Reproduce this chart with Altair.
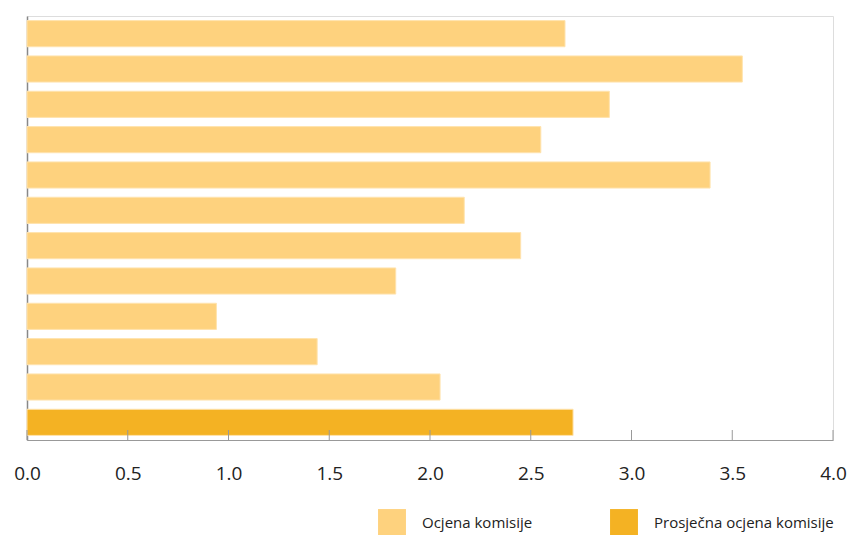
import altair as alt
import pandas as pd

categories = [str(i) for i in range(1, 13)]
values = [2.67, 3.55, 2.89, 2.55, 3.39, 2.17, 2.45, 1.83, 0.94, 1.44, 2.05, 2.71]
series = ["Ocjena komisije"] * 11 + ["Prosječna ocjena komisije"]
tick_values = [0.0, 0.5, 1.0, 1.5, 2.0, 2.5, 3.0, 3.5, 4.0]

df = pd.DataFrame({"cat": categories, "value": values, "series": series})
ticks = pd.DataFrame({"t": tick_values})

W, H = 806, 424
FONT = "Open Sans"

x_scale = alt.Scale(domain=[0, 4], nice=False, zero=True)

bars = alt.Chart(df).mark_bar(stroke="#FFE3AE", strokeWidth=1).encode(
    y=alt.Y("cat:N", sort=categories,
            scale=alt.Scale(paddingInner=0.26, paddingOuter=0.13),
            axis=alt.Axis(title=None, labels=False, ticks=False, domain=True,
                          domainColor="#888888", domainWidth=1.5)),
    x=alt.X("value:Q", scale=x_scale,
            axis=alt.Axis(title=None, values=tick_values, format=".1f", ticks=False,
                          grid=False, domainColor="#999999", domainWidth=1,
                          labelFlush=False, labelBound=False,
                          labelPadding=24, labelFontSize=19, labelColor="#222222",
                          labelFont=FONT)),
    color=alt.Color("series:N",
                    scale=alt.Scale(domain=["Ocjena komisije", "Prosječna ocjena komisije"],
                                    range=["#FED27E", "#F4B223"]),
                    legend=alt.Legend(title=None, orient="none", legendX=351, legendY=493,
                                      direction="horizontal", symbolType="square",
                                      symbolSize=780, symbolStrokeWidth=0,
                                      labelFont=FONT, labelFontSize=15, labelColor="#222222",
                                      labelOffset=16, columnPadding=77, labelLimit=400)),
)

tick_rules = alt.Chart(ticks).mark_rule(color="#999999", strokeWidth=1).encode(
    x=alt.X("t:Q", scale=x_scale),
    y=alt.value(H - 10),
    y2=alt.value(H),
)

chart = alt.layer(bars, tick_rules).properties(
    width=W, height=H,
    autosize=alt.AutoSizeParams(type="none"),
    padding={"left": 19, "top": 8, "right": 14, "bottom": 95},
).configure_view(stroke=None).configure(font=FONT)

chart.save("out.html", embed_options={"renderer": "svg", "actions": False})
